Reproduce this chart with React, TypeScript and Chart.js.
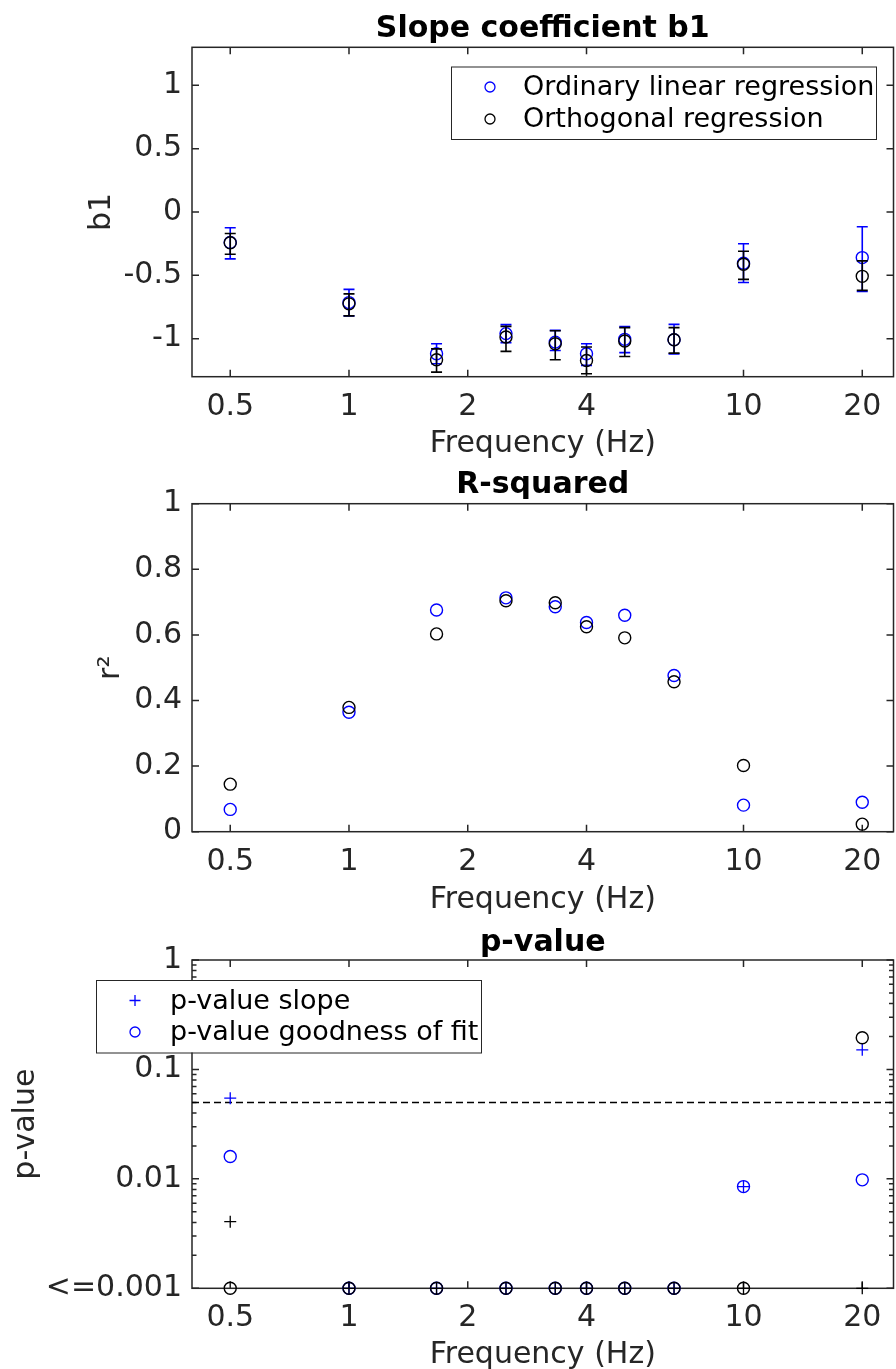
import React, { useEffect, useRef } from "react";
import { Chart, registerables } from "chart.js";

Chart.register(...registerables);

// ---------- data ----------
const FREQ = [0.5, 1, 1.667, 2.5, 3.333, 4, 5, 6.667, 10, 20];
const X_TICKS = [0.5, 1, 2, 4, 10, 20];
const X_TICK_LABELS = ["0.5", "1", "2", "4", "10", "20"];
const X_MIN = 0.4;
const X_MAX = 24;

const SERIES_OLS = "Ordinary linear regression";
const SERIES_ORTH = "Orthogonal regression";

const B1_OLS = [-0.24, -0.715, -1.119, -0.96, -1.027, -1.119, -1.005, -1.008, -0.405, -0.36];
const B1_OLS_LO = [-0.37, -0.82, -1.198, -1.031, -1.093, -1.211, -1.11, -1.12, -0.556, -0.627];
const B1_OLS_HI = [-0.124, -0.611, -1.04, -0.889, -0.934, -1.04, -0.905, -0.887, -0.251, -0.116];
const B1_ORTH = [-0.243, -0.725, -1.166, -0.987, -1.04, -1.172, -1.018, -1.008, -0.413, -0.508];
const B1_ORTH_LO = [-0.333, -0.82, -1.264, -1.1, -1.166, -1.277, -1.14, -1.114, -0.532, -0.619];
const B1_ORTH_HI = [-0.17, -0.646, -1.08, -0.903, -0.937, -1.066, -0.913, -0.913, -0.31, -0.386];
const B1_TICKS = [-1, -0.5, 0, 0.5, 1];
const B1_TICK_LABELS = ["-1", "-0.5", "0", "0.5", "1"];

const R2_OLS = [0.068, 0.364, 0.676, 0.713, 0.686, 0.638, 0.66, 0.476, 0.081, 0.09];
const R2_ORTH = [0.145, 0.379, 0.603, 0.704, 0.698, 0.625, 0.591, 0.457, 0.202, 0.023];
const R2_TICKS = [0, 0.2, 0.4, 0.6, 0.8, 1];
const R2_TICK_LABELS = ["0", "0.2", "0.4", "0.6", "0.8", "1"];

const P_SLOPE_OLS = [0.0546, 0.001, 0.001, 0.001, 0.001, 0.001, 0.001, 0.001, 0.0085, 0.151];
const P_FIT_OLS = [0.016, 0.001, 0.001, 0.001, 0.001, 0.001, 0.001, 0.001, 0.0085, 0.0098];
const P_SLOPE_ORTH = [0.00406, 0.001, 0.001, 0.001, 0.001, 0.001, 0.001, 0.001, 0.001, 0.001];
const P_FIT_ORTH = [0.001, 0.001, 0.001, 0.001, 0.001, 0.001, 0.001, 0.001, 0.001, 0.195];
const P_THRESHOLD = 0.05;
const P_TICKS = [0.001, 0.01, 0.1, 1];
const P_TICK_LABELS = ["<=0.001", "0.01", "0.1", "1"];
const P_MINOR = [2, 3, 4, 5, 6, 7, 8, 9].flatMap((m) => [m * 0.001, m * 0.01, m * 0.1]);
const P_LEGEND = ["p-value slope", "p-value goodness of fit"];

// ---------- style ----------
const FONT = "'DejaVu Sans', sans-serif";
const AXIS_COLOR = "#262626";
const BLUE = "#0000ff";
const BLACK = "#000000";
const W = 896;

const toPts = (ys: number[]) => ys.map((y, i) => ({ x: FREQ[i], y }));

// ---------- plugins ----------
const boxPlugin = {
  id: "matlabBox",
  beforeDatasetsDraw(chart: any, _a: any, opts: any) {
    const { ctx, chartArea: a, scales } = chart;
    const xs = scales.x;
    const ys = scales.y;
    ctx.save();
    ctx.strokeStyle = AXIS_COLOR;
    ctx.lineWidth = 1.5;
    ctx.strokeRect(a.left, a.top, a.right - a.left, a.bottom - a.top);
    ctx.beginPath();
    const L = 7;
    xs.ticks.forEach((t: any) => {
      const p = xs.getPixelForValue(t.value);
      ctx.moveTo(p, a.bottom);
      ctx.lineTo(p, a.bottom - L);
      ctx.moveTo(p, a.top);
      ctx.lineTo(p, a.top + L);
    });
    ys.ticks.forEach((t: any) => {
      const p = ys.getPixelForValue(t.value);
      ctx.moveTo(a.left, p);
      ctx.lineTo(a.left + L, p);
      ctx.moveTo(a.right, p);
      ctx.lineTo(a.right - L, p);
    });
    (opts.yMinor || []).forEach((v: number) => {
      const p = ys.getPixelForValue(v);
      ctx.moveTo(a.left, p);
      ctx.lineTo(a.left + 4.5, p);
      ctx.moveTo(a.right, p);
      ctx.lineTo(a.right - 4.5, p);
    });
    ctx.stroke();
    ctx.restore();
  },
};

const errorBarPlugin = {
  id: "errorBars",
  afterDatasetDraw(chart: any, args: any) {
    const ds = chart.data.datasets[args.index];
    if (!ds.errLow) return;
    const { ctx, scales } = chart;
    ctx.save();
    ctx.strokeStyle = ds.borderColor;
    ctx.lineWidth = 1.6;
    ctx.beginPath();
    const cap = 5.5;
    ds.data.forEach((pt: any, i: number) => {
      const x = scales.x.getPixelForValue(pt.x);
      const lo = scales.y.getPixelForValue(ds.errLow[i]);
      const hi = scales.y.getPixelForValue(ds.errHigh[i]);
      ctx.moveTo(x, lo);
      ctx.lineTo(x, hi);
      ctx.moveTo(x - cap, lo);
      ctx.lineTo(x + cap, lo);
      ctx.moveTo(x - cap, hi);
      ctx.lineTo(x + cap, hi);
    });
    ctx.stroke();
    ctx.restore();
  },
};

const legendPlugin = {
  id: "matlabLegend",
  afterDraw(chart: any, _a: any, opts: any) {
    if (!opts || !opts.items) return;
    const { ctx } = chart;
    const b = opts.box;
    ctx.save();
    ctx.fillStyle = "#ffffff";
    ctx.fillRect(b.x, b.y, b.w, b.h);
    ctx.strokeStyle = AXIS_COLOR;
    ctx.lineWidth = 1;
    ctx.strokeRect(b.x + 0.5, b.y + 0.5, b.w, b.h);
    ctx.font = `${opts.fontSize}px ${FONT}`;
    ctx.textBaseline = "middle";
    ctx.textAlign = "left";
    opts.items.forEach((it: any, i: number) => {
      const cy = b.y + opts.rowY[i];
      const mx = b.x + opts.markerX;
      ctx.strokeStyle = it.color;
      ctx.lineWidth = 1.3;
      ctx.beginPath();
      if (it.style === "cross") {
        ctx.moveTo(mx - 5.5, cy);
        ctx.lineTo(mx + 5.5, cy);
        ctx.moveTo(mx, cy - 5.5);
        ctx.lineTo(mx, cy + 5.5);
      } else {
        ctx.arc(mx, cy, 5, 0, Math.PI * 2);
      }
      ctx.stroke();
      ctx.fillStyle = "#000000";
      ctx.fillText(it.label, b.x + opts.textX, cy + 1);
    });
    ctx.restore();
  },
};

// ---------- helpers ----------
function circleSet(label: string, data: number[], color: string, order: number, extra: any = {}) {
  return {
    label,
    data: toPts(data),
    borderColor: color,
    backgroundColor: "rgba(0,0,0,0)",
    pointStyle: "circle",
    pointRadius: 6,
    pointBorderWidth: 1.4,
    showLine: false,
    clip: false,
    order,
    ...extra,
  };
}

function crossSet(label: string, data: number[], color: string, order: number) {
  return {
    label,
    data: toPts(data),
    borderColor: color,
    backgroundColor: color,
    pointStyle: "cross",
    pointRadius: 6,
    pointBorderWidth: 1.3,
    showLine: false,
    clip: false,
    order,
  };
}

function baseOptions(p: any) {
  const tickFont = { family: FONT, size: 30, lineHeight: 1.2 };
  return {
    animation: false,
    responsive: false,
    maintainAspectRatio: false,
    events: [],
    layout: { autoPadding: false, padding: { left: 0, right: 2.5, top: 0, bottom: 0 } },
    plugins: {
      legend: { display: false },
      tooltip: { enabled: false },
      title: {
        display: true,
        fullSize: false,
        text: p.title,
        color: "#000000",
        font: { family: FONT, size: 30, weight: "bold", lineHeight: 1.0 },
        padding: { top: p.titlePadTop, bottom: p.titlePadBottom },
      },
      matlabBox: { yMinor: p.yMinor || [] },
      matlabLegend: p.legend || {},
    },
    scales: {
      x: {
        type: "logarithmic",
        min: X_MIN,
        max: X_MAX,
        afterBuildTicks: (s: any) => {
          s.ticks = X_TICKS.map((v) => ({ value: v }));
        },
        afterFit: (s: any) => {
          s.height = p.xAxisHeight;
          s.paddingLeft = 0;
          s.paddingRight = 0;
        },
        grid: { display: false, drawTicks: false, tickLength: 0 },
        border: { display: false },
        ticks: {
          autoSkip: false,
          maxRotation: 0,
          padding: 12.3,
          color: AXIS_COLOR,
          font: tickFont,
          callback: (_v: any, i: number) => X_TICK_LABELS[i],
        },
        title: {
          display: true,
          text: "Frequency (Hz)",
          color: AXIS_COLOR,
          font: { family: FONT, size: 30, lineHeight: 0.9 },
          padding: { top: 0, bottom: p.xTitlePad },
        },
      },
      y: {
        type: p.yType,
        min: p.yMin,
        max: p.yMax,
        afterBuildTicks: (s: any) => {
          s.ticks = p.yTicks.map((v: number) => ({ value: v }));
        },
        afterFit: (s: any) => {
          s.width = 192;
          s.paddingTop = 0;
          s.paddingBottom = 0;
        },
        grid: { display: false, drawTicks: false, tickLength: 0 },
        border: { display: false },
        ticks: {
          autoSkip: false,
          padding: 10,
          color: AXIS_COLOR,
          font: tickFont,
          callback: (_v: any, i: number) => p.yTickLabels[i],
        },
        title: {
          display: true,
          text: p.yTitle,
          color: AXIS_COLOR,
          font: { family: FONT, size: 30, lineHeight: 0.9 },
          padding: { top: p.yTitlePad, bottom: 0 },
        },
      },
    },
  };
}

function Panel({ top, height, build }: { top: number; height: number; build: () => any }) {
  const ref = useRef<HTMLCanvasElement | null>(null);
  useEffect(() => {
    if (!ref.current) return;
    const chart = new Chart(ref.current, build());
    return () => chart.destroy();
  }, []);
  return (
    <canvas
      ref={ref}
      width={W}
      height={height}
      style={{ position: "absolute", left: 0, top, width: W, height, display: "block" }}
    />
  );
}

const buildB1 = () => ({
  type: "scatter",
  data: {
    datasets: [
      circleSet(SERIES_OLS, B1_OLS, BLUE, 2, { errLow: B1_OLS_LO, errHigh: B1_OLS_HI }),
      circleSet(SERIES_ORTH, B1_ORTH, BLACK, 1, { errLow: B1_ORTH_LO, errHigh: B1_ORTH_HI }),
    ],
  },
  options: baseOptions({
    title: "Slope coefficient b1",
    titlePadTop: 14,
    titlePadBottom: 3.3,
    xAxisHeight: 83.3,
    xTitlePad: 2.5,
    yType: "linear",
    yMin: -1.3,
    yMax: 1.3,
    yTicks: B1_TICKS,
    yTickLabels: B1_TICK_LABELS,
    yTitle: "b1",
    yTitlePad: 88.5,
    legend: {
      box: { x: 451, y: 66.5, w: 425, h: 72.5 },
      markerX: 39,
      textX: 72,
      rowY: [20.5, 52.5],
      fontSize: 27,
      items: [
        { label: SERIES_OLS, color: BLUE, style: "circle" },
        { label: SERIES_ORTH, color: BLACK, style: "circle" },
      ],
    },
  }),
  plugins: [boxPlugin, errorBarPlugin, legendPlugin],
});

const buildR2 = () => ({
  type: "scatter",
  data: {
    datasets: [circleSet(SERIES_OLS, R2_OLS, BLUE, 2), circleSet(SERIES_ORTH, R2_ORTH, BLACK, 1)],
  },
  options: baseOptions({
    title: "R-squared",
    titlePadTop: 10,
    titlePadBottom: 3.7,
    xAxisHeight: 83.3,
    xTitlePad: 1.5,
    yType: "linear",
    yMin: 0,
    yMax: 1,
    yTicks: R2_TICKS,
    yTickLabels: R2_TICK_LABELS,
    yTitle: "r²",
    yTitlePad: 97.7,
  }),
  plugins: [boxPlugin, legendPlugin],
});

const buildP = () => ({
  type: "scatter",
  data: {
    datasets: [
      {
        label: "p = 0.05",
        data: [
          { x: X_MIN, y: P_THRESHOLD },
          { x: X_MAX, y: P_THRESHOLD },
        ],
        borderColor: BLACK,
        borderWidth: 1.5,
        borderDash: [7, 4],
        pointRadius: 0,
        showLine: true,
        order: 5,
      },
      circleSet(P_LEGEND[1], P_FIT_OLS, BLUE, 4),
      crossSet(P_LEGEND[0], P_SLOPE_OLS, BLUE, 3),
      circleSet(P_LEGEND[1] + " (orthogonal)", P_FIT_ORTH, BLACK, 2),
      crossSet(P_LEGEND[0] + " (orthogonal)", P_SLOPE_ORTH, BLACK, 1),
    ],
  },
  options: baseOptions({
    title: "p-value",
    titlePadTop: 13,
    titlePadBottom: 2,
    xAxisHeight: 80.7,
    xTitlePad: 0,
    yType: "logarithmic",
    yMin: 0.001,
    yMax: 1,
    yTicks: P_TICKS,
    yTickLabels: P_TICK_LABELS,
    yMinor: P_MINOR,
    yTitle: "p-value",
    yTitlePad: 12.5,
    legend: {
      box: { x: 96, y: 65, w: 385, h: 72.5 },
      markerX: 39,
      textX: 74,
      rowY: [20.5, 52],
      fontSize: 27,
      items: [
        { label: P_LEGEND[0], color: BLUE, style: "cross" },
        { label: P_LEGEND[1], color: BLUE, style: "circle" },
      ],
    },
  }),
  plugins: [boxPlugin, legendPlugin],
});

export default function App() {
  return (
    <div style={{ position: "absolute", left: 0, top: 0, width: W, height: 1369, background: "#ffffff" }}>
      <Panel top={0} height={460} build={buildB1} />
      <Panel top={460} height={455} build={buildR2} />
      <Panel top={915} height={454} build={buildP} />
    </div>
  );
}
